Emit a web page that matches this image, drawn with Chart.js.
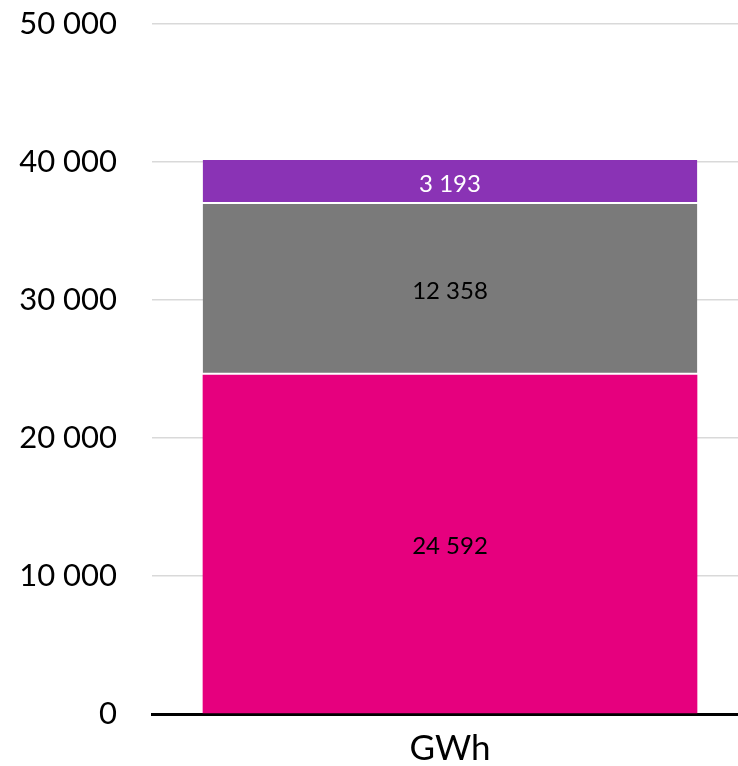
<!DOCTYPE html>
<html>
<head>
<meta charset="utf-8">
<script src="https://cdn.jsdelivr.net/npm/chart.js@4/dist/chart.umd.min.js"></script>
<style>
  html, body { margin: 0; padding: 0; overflow: hidden; background: #fff; }
  #wrap { width: 748px; height: 766px; }
</style>
</head>
<body>
<div id="wrap"><canvas id="chart"></canvas></div>
<script>
let categories = ["GWh"];
let seriesNames = ["A", "B", "C"];
let seriesValues = [[24592], [12358], [3193]];
let seriesColors = ["#e6007e", "#7a7a7a", "#8a33b5"];
let labelColors = ["#000000", "#000000", "#ffffff"];
let yTicks = [0, 10000, 20000, 30000, 40000, 50000];

function fmt(v) {
  return String(v).replace(/\B(?=(\d{3})+(?!\d))/g, " ");
}

let barLabels = {
  id: "barLabels",
  afterDatasetsDraw(chart) {
    let ctx = chart.ctx;
    ctx.save();
    ctx.font = "24px Lato";
    ctx.textAlign = "center";
    ctx.textBaseline = "middle";
    chart.data.datasets.forEach(function (ds, i) {
      chart.getDatasetMeta(i).data.forEach(function (bar, j) {
        let p = bar.getProps(["x", "y", "base"], true);
        ctx.fillStyle = labelColors[i];
        ctx.fillText(fmt(ds.data[j]), p.x, (p.y + p.base) / 2 + 2);
      });
    });
    ctx.restore();
  }
};

new Chart(document.getElementById("chart"), {
  type: "bar",
  data: {
    labels: categories,
    datasets: seriesValues.map(function (vals, i) {
      return {
        label: seriesNames[i],
        data: vals,
        backgroundColor: seriesColors[i],
        borderColor: "#ffffff",
        borderWidth: i > 0 ? { top: 0, bottom: 2, left: 0, right: 0 } : 0,
        borderSkipped: false,
        barPercentage: 0.83,
        categoryPercentage: 1
      };
    })
  },
  options: {
    responsive: true,
    maintainAspectRatio: false,
    animation: false,
    layout: { padding: { top: 24, right: 0, left: 0, bottom: 0 } },
    plugins: { legend: { display: false }, tooltip: { enabled: false } },
    scales: {
      x: {
        stacked: true,
        grid: { display: false },
        border: { display: true, color: "#000000", width: 3 },
        ticks: { color: "#000000", font: { family: "Lato", size: 35 }, padding: 6 },
        afterFit: function (s) { s.height = 52; }
      },
      y: {
        stacked: true,
        min: 0,
        max: 50000,
        afterBuildTicks: function (s) { s.ticks = yTicks.map(function (v) { return { value: v }; }); },
        grid: { color: "#d9d9d9", lineWidth: 1.5, drawTicks: false },
        border: { display: false },
        ticks: {
          color: "#000000",
          font: { family: "Lato", size: 31 },
          padding: 35,
          callback: function (v) { return fmt(v); }
        },
        afterFit: function (s) { s.width = 152; s.paddingTop = 0; s.paddingBottom = 0; }
      }
    }
  },
  plugins: [barLabels]
});
</script>
</body>
</html>
